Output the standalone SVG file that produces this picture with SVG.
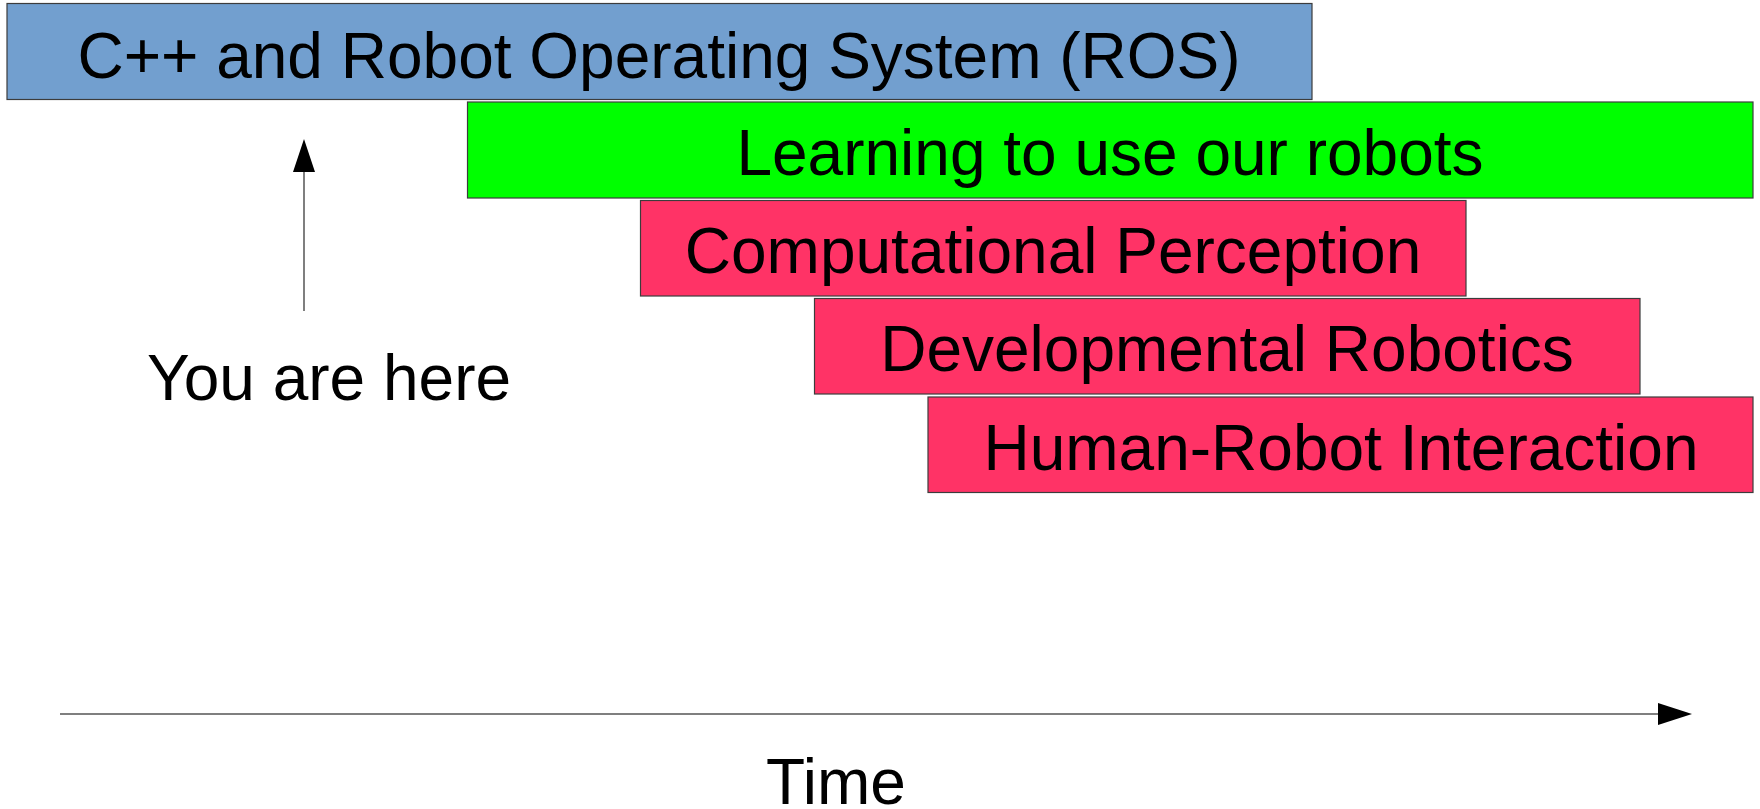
<svg xmlns="http://www.w3.org/2000/svg" width="1760" height="809" viewBox="0 0 1760 809">
<style>
.box{stroke:#3c3c3c;stroke-width:1.2}
.lbl{font-family:"Liberation Sans",Arial,sans-serif;font-size:64px;fill:#000;text-anchor:middle}
.ln{stroke:#555;stroke-width:1.5;fill:none}
</style>
<rect width="1760" height="809" fill="#fff"/>
<g id="ros"><rect class="box" x="7" y="3.5" width="1305" height="96" fill="#729fcf"/><text class="lbl" x="659" y="78">C++ and Robot Operating System (ROS)</text></g>
<g id="learning"><rect class="box" x="467.5" y="102" width="1285.5" height="96" fill="#00ff00"/><text class="lbl" x="1110" y="175">Learning to use our robots</text></g>
<g id="perception"><rect class="box" x="640.5" y="200.5" width="825.5" height="95.5" fill="#ff3366"/><text class="lbl" x="1053" y="273">Computational Perception</text></g>
<g id="developmental"><rect class="box" x="814.5" y="298.5" width="825.5" height="95.5" fill="#ff3366"/><text class="lbl" x="1227" y="371">Developmental Robotics</text></g>
<g id="hri"><rect class="box" x="928" y="397" width="825" height="95.5" fill="#ff3366"/><text class="lbl" x="1341" y="470">Human-Robot Interaction</text></g>
<g id="here"><text class="lbl" x="329" y="400">You are here</text></g>
<g id="time"><text class="lbl" x="836" y="804">Time</text></g>
<g id="connectors">
<line class="ln" x1="304" y1="311" x2="304" y2="170"/>
<polygon points="304,139 293,172 315,172" fill="#000"/>
<line class="ln" x1="60" y1="714" x2="1660" y2="714"/>
<polygon points="1692,714 1658,703 1658,725" fill="#000"/>
</g>
</svg>
